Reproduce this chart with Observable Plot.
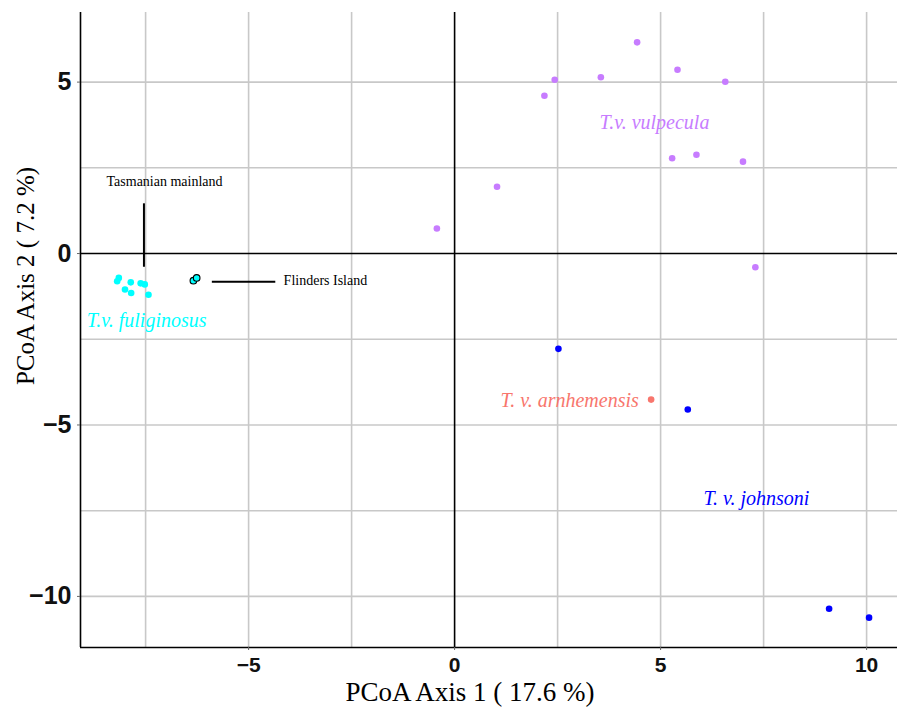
<!DOCTYPE html>
<html>
<head>
<meta charset="utf-8">
<script src="https://cdn.jsdelivr.net/npm/d3@7"></script>
<script src="https://cdn.jsdelivr.net/npm/@observablehq/plot@0.6"></script>
<style>
  html, body { margin: 0; padding: 0; background: #fff; }
  #chart svg { display: block; }
</style>
</head>
<body>
<div id="chart"></div>
<script>
// ---- data ----
const vulpeculaX = [4.43, 5.41, 3.55, 2.43, 6.57, 2.18, 5.28, 5.87, 7.00, 1.03, -0.43, 7.30];
const vulpeculaY = [6.16, 5.36, 5.14, 5.07, 5.01, 4.60, 2.78, 2.88, 2.68, 1.95, 0.73, -0.40];
const johnsoniX = [2.52, 5.66, 9.09, 10.06];
const johnsoniY = [-2.78, -4.55, -10.36, -10.62];
const arnhemensisX = [4.77];
const arnhemensisY = [-4.26];
const fuliginosusX = [-8.15, -8.19, -7.86, -7.62, -7.52, -8.00, -7.85, -7.43];
const fuliginosusY = [-0.71, -0.81, -0.84, -0.87, -0.90, -1.05, -1.15, -1.20];
const flindersX = [-6.34, -6.26];
const flindersY = [-0.79, -0.71];

const subspeciesLabels = ["T.v. vulpecula", "T. v. arnhemensis", "T. v. johnsoni", "T.v. fuliginosus"];
const subspeciesLabelX = [3.52, 4.47, 6.04, -8.93];
const subspeciesLabelY = [3.83, -4.29, -7.14, -1.95];
const subspeciesLabelAnchor = ["start", "end", "start", "start"];
const subspeciesColors = ["#C77CFF", "#F8766D", "#0000FF", "#00FFFF"];

const annotationLabels = ["Tasmanian mainland", "Flinders Island"];
const annotationX = [-7.04, -4.15];
const annotationY = [2.10, -0.79];
const annotationAnchor = ["middle", "start"];
const tasLineX = -7.54, tasLineY1 = 1.45, tasLineY2 = -0.40;
const flindLineY = -0.82, flindLineX1 = -5.88, flindLineX2 = -4.34;

const xDomain = [-9.08, 10.75];
const yDomain = [-11.49, 7.03];
const xTicks = [-5, 0, 5, 10];
const yTicks = [-10, -5, 0, 5];
const xGrid = [-7.5, -5, -2.5, 2.5, 5, 7.5, 10];
const yGrid = [-10, -7.5, -5, -2.5, 2.5, 5];
const xTitle = "PCoA Axis 1 ( 17.6 %)";
const yTitle = "PCoA Axis 2 ( 7.2 %)";

// ---- tables ----
const pts = (xs, ys, group) => xs.map((x, i) => ({x, y: ys[i], group}));
const vul = pts(vulpeculaX, vulpeculaY, "vulpecula");
const joh = pts(johnsoniX, johnsoniY, "johnsoni");
const arn = pts(arnhemensisX, arnhemensisY, "arnhemensis");
const ful = pts(fuliginosusX, fuliginosusY, "fuliginosus");
const fli = pts(flindersX, flindersY, "flinders");
const labels = subspeciesLabels.map((t, i) => ({t, x: subspeciesLabelX[i], y: subspeciesLabelY[i], a: subspeciesLabelAnchor[i], c: subspeciesColors[i]}));
const annots = annotationLabels.map((t, i) => ({t, x: annotationX[i], y: annotationY[i], a: annotationAnchor[i]}));

const gridColor = "#c8c8c8";
const serif = "'Liberation Serif', 'Times New Roman', serif";
const sans = "'Liberation Sans', Arial, sans-serif";

const chart = Plot.plot({
  width: 897,
  height: 708,
  marginLeft: 80,
  marginRight: 0,
  marginTop: 12,
  marginBottom: 61,
  x: {domain: xDomain},
  y: {domain: yDomain},
  marks: [
    Plot.ruleX(xGrid, {stroke: gridColor, strokeWidth: 1.6}),
    Plot.ruleY(yGrid, {stroke: gridColor, strokeWidth: 1.6}),
    Plot.ruleX([0], {stroke: "#000", strokeWidth: 1.6}),
    Plot.ruleY([0], {stroke: "#000", strokeWidth: 1.6}),
    Plot.ruleX([xDomain[0]], {stroke: "#000", strokeWidth: 1.6}),
    Plot.ruleY([yDomain[0]], {stroke: "#000", strokeWidth: 1.6}),
    Plot.axisX(xTicks, {tickSize: 3, tickPadding: 7, stroke: "#666", fontSize: 21, fontWeight: "bold", fontFamily: sans, fill: "#111", label: null}),
    Plot.axisY(yTicks, {tickSize: 3, tickPadding: 6, stroke: "#666", fontSize: 25, fontWeight: "bold", fontFamily: sans, fill: "#111", label: null}),
    // annotation lines
    Plot.ruleX([tasLineX], {y1: tasLineY1, y2: tasLineY2, stroke: "#000", strokeWidth: 2}),
    Plot.ruleY([flindLineY], {x1: flindLineX1, x2: flindLineX2, stroke: "#000", strokeWidth: 2}),
    // points
    Plot.dot(vul, {x: "x", y: "y", r: 3.3, fill: subspeciesColors[0], stroke: null}),
    Plot.dot(arn, {x: "x", y: "y", r: 3.3, fill: subspeciesColors[1], stroke: null}),
    Plot.dot(joh, {x: "x", y: "y", r: 3.3, fill: subspeciesColors[2], stroke: null}),
    Plot.dot(ful, {x: "x", y: "y", r: 3.3, fill: subspeciesColors[3], stroke: null}),
    Plot.dot(fli, {x: "x", y: "y", r: 3.3, fill: "#00FFFF", stroke: "#000", strokeWidth: 1.1}),
    // subspecies labels
    Plot.text(labels.filter(d => d.a === "start"), {x: "x", y: "y", text: "t", fill: "c", textAnchor: "start", fontSize: 20, fontStyle: "italic", fontFamily: serif}),
    Plot.text(labels.filter(d => d.a === "end"), {x: "x", y: "y", text: "t", fill: "c", textAnchor: "end", fontSize: 20, fontStyle: "italic", fontFamily: serif}),
    // annotations
    Plot.text(annots.filter(d => d.a === "middle"), {x: "x", y: "y", text: "t", fill: "#000", textAnchor: "middle", fontSize: 14, fontFamily: serif}),
    Plot.text(annots.filter(d => d.a === "start"), {x: "x", y: "y", text: "t", fill: "#000", textAnchor: "start", fontSize: 14, fontFamily: serif}),
    // axis titles
    Plot.text([xTitle], {frameAnchor: "bottom", text: d => d, textAnchor: "middle", dx: -19, dy: 45, lineAnchor: "middle", fontSize: 27, fontFamily: serif, fill: "#000"}),
    Plot.text([yTitle], {frameAnchor: "left", text: d => d, rotate: -90, textAnchor: "middle", dx: -55, dy: -54, lineAnchor: "middle", fontSize: 25, fontFamily: serif, fill: "#000"})
  ]
});
document.getElementById("chart").appendChild(chart);
</script>
</body>
</html>
